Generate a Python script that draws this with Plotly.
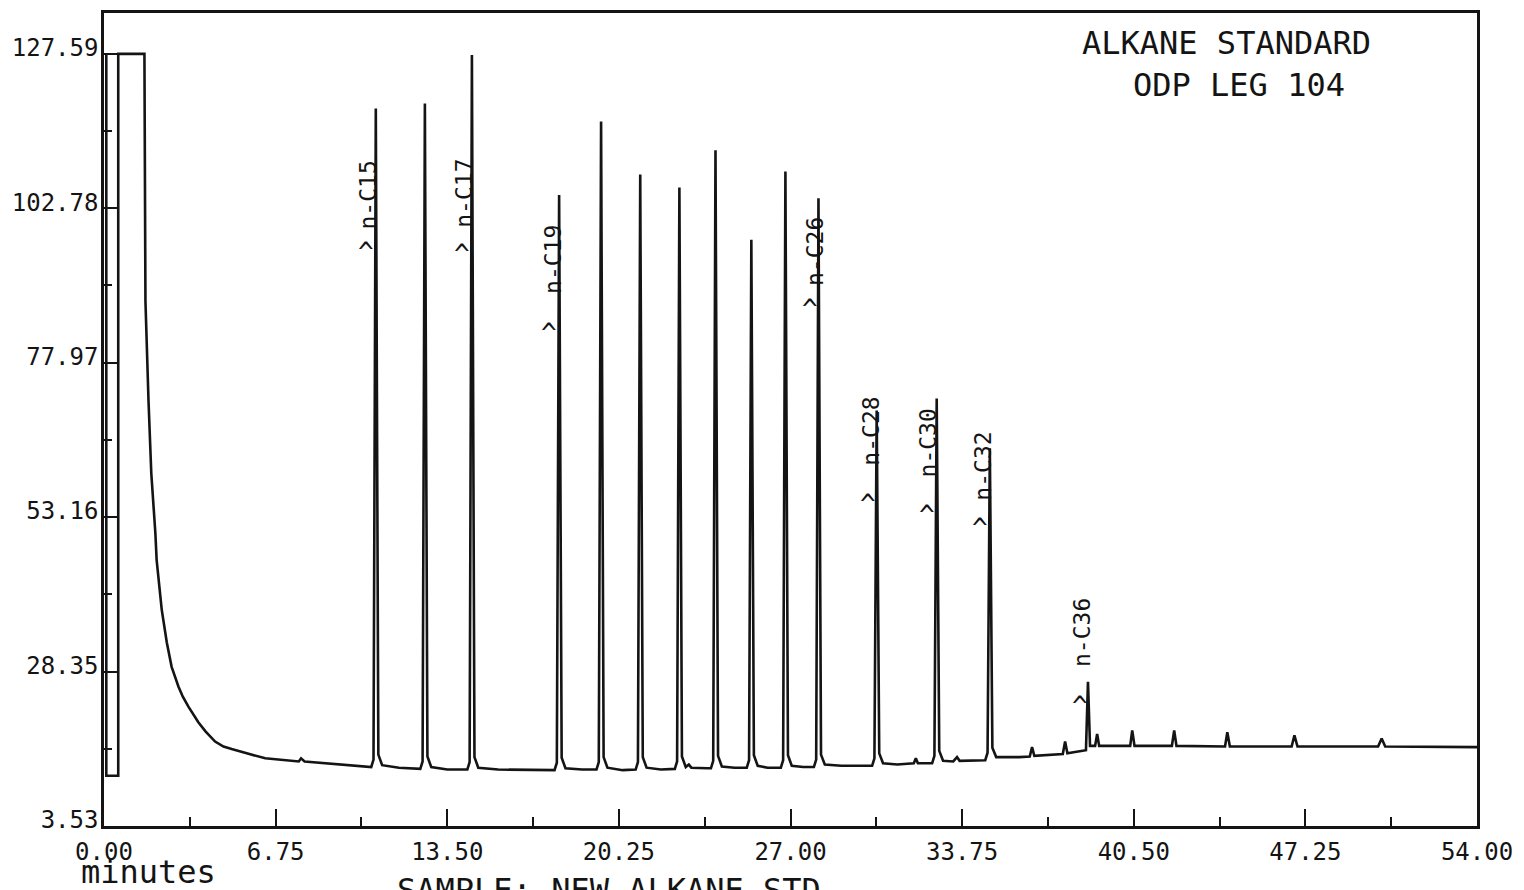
import plotly.graph_objects as go

# ---- data (retention time in minutes, detector signal) ----
time_min = [
    0.09, 0.09, 0.56, 0.56, 1.59,
    1.63, 1.75, 1.86, 2.02, 2.07, 2.27, 2.47, 2.66, 2.93, 3.10, 3.32, 3.71, 4.00, 4.37, 4.70, 5.02, 5.69, 6.34,
    7.66, 7.75, 7.89, 8.96, 10.02,
    10.51, 10.60, 10.69, 10.79, 10.94, 11.6, 12.3,
    12.44, 12.53, 12.62, 12.72, 12.87, 13.5, 14.13,
    14.29, 14.38, 14.47, 14.57, 14.72, 15.5, 16.8, 17.56,
    17.72, 17.81, 17.90, 18.00, 18.15, 18.8, 19.23,
    19.37, 19.46, 19.55, 19.65, 19.80, 20.4, 20.77,
    20.91, 21.00, 21.09, 21.19, 21.34, 21.9, 22.31,
    22.45, 22.54, 22.63, 22.73, 22.88, 23.0, 23.1, 23.73,
    23.87, 23.96, 24.05, 24.15, 24.30, 24.8, 25.14,
    25.28, 25.37, 25.46, 25.56, 25.71, 26.1, 26.48,
    26.62, 26.71, 26.80, 26.90, 27.05, 27.5, 27.78,
    27.92, 28.01, 28.10, 28.20, 28.35, 29.0, 30.07,
    30.21, 30.30, 30.39, 30.49, 30.64, 31.2, 31.85, 31.93, 32.01, 32.43,
    32.57, 32.66, 32.75, 32.85, 33.00, 33.4, 33.55, 33.65, 34.52,
    34.66, 34.75, 34.84, 34.94, 35.09, 36.0, 36.41, 36.50, 36.59, 37.71, 37.80, 37.89, 38.55,
    38.62, 38.70, 38.78, 38.98, 39.06, 39.14, 40.36, 40.44, 40.53, 42.0, 42.09, 42.18,
    44.09, 44.18, 44.28, 46.71, 46.82, 46.94, 50.11, 50.25, 50.39, 54.0,
]
signal = [
    127.59, 11.6, 11.6, 127.59, 127.59,
    87.9, 71.9, 60.2, 50.6, 46.3, 38.3, 33.0, 29.1, 25.9, 24.3, 22.7, 20.2, 18.7, 17.1, 16.3, 15.9, 15.1, 14.4,
    13.9, 14.4, 13.9, 13.5, 13.1,
    13.0, 14.2, 118.8, 15.0, 13.3, 12.9, 12.7,
    12.7, 13.9, 119.6, 14.7, 13.0, 12.6, 12.6,
    12.6, 13.8, 127.4, 14.6, 12.9, 12.6, 12.5, 12.5,
    12.5, 13.7, 104.9, 14.5, 12.8, 12.6, 12.6,
    12.6, 13.8, 116.7, 14.6, 12.9, 12.5, 12.6,
    12.6, 13.8, 108.2, 14.6, 12.9, 12.6, 12.7,
    12.7, 13.9, 106.1, 14.7, 13.0, 13.4, 12.9, 12.8,
    12.8, 14.0, 112.1, 14.8, 13.1, 12.9, 12.9,
    12.9, 14.1, 97.7, 14.9, 13.2, 12.9, 12.9,
    12.9, 14.1, 108.7, 14.9, 13.2, 13.0, 13.0,
    13.0, 14.2, 104.4, 15.0, 13.4, 13.2, 13.2,
    13.2, 14.4, 70.3, 15.2, 13.6, 13.4, 13.6, 14.4, 13.6, 13.6,
    13.6, 14.8, 72.2, 15.6, 14.0, 13.9, 14.6, 14.0, 14.1,
    14.1, 15.3, 64.2, 16.1, 14.6, 14.6, 14.7, 16.2, 14.8, 15.1, 17.1, 15.2, 15.6,
    15.7, 26.7, 16.4, 16.4, 18.3, 16.4, 16.4, 18.9, 16.4, 16.4, 18.9, 16.4,
    16.3, 18.6, 16.3, 16.3, 18.1, 16.3, 16.3, 17.6, 16.3, 16.2,
]

# axis ticks
x_tick_values = [0, 6.75, 13.5, 20.25, 27, 33.75, 40.5, 47.25, 54]
x_tick_labels = ["0.00", "6.75", "13.50", "20.25", "27.00", "33.75", "40.50", "47.25", "54.00"]
x_minor_values = [3.375, 10.125, 16.875, 23.625, 30.375, 37.125, 43.875, 50.625]
y_tick_values = [3.53, 28.35, 53.16, 77.97, 102.78, 127.59]
y_tick_labels = ["3.53", "28.35", "53.16", "77.97", "102.78", "127.59"]
y_minor_values = [15.94, 40.755, 65.565, 90.375, 115.185]

# peak identification labels
peak_labels = ["n-C15", "n-C17", "n-C19", "n-C26", "n-C28", "n-C30", "n-C32", "n-C36"]
label_x = [10.40, 14.18, 17.65, 27.96, 30.13, 32.41, 34.58, 38.44]
label_y = [104.9, 105.2, 94.6, 95.9, 66.9, 65.0, 61.3, 34.6]
caret_x = [10.31, 14.09, 17.52, 27.76, 30.04, 32.36, 34.45, 38.39]
caret_y = [96.9, 96.5, 83.9, 87.7, 56.4, 54.6, 52.5, 24.0]

title_lines = ["ALKANE STANDARD", "ODP LEG 104"]
x_axis_name = "minutes"
sample_caption = "SAMPLE: NEW ALKANE STD"

FONT = "DejaVu Sans Mono, monospace"
INK = "#141414"

fig = go.Figure()
fig.add_trace(go.Scatter(
    x=time_min, y=signal, mode="lines",
    line=dict(color=INK, width=2.6),
    hoverinfo="x+y", showlegend=False,
))

annotations = []
for txt, lx, ly in zip(peak_labels, label_x, label_y):
    annotations.append(dict(
        x=lx, y=ly, xref="x", yref="y", text=txt, textangle=-90,
        showarrow=False, xanchor="center", yanchor="middle",
        font=dict(family=FONT, size=23, color=INK),
    ))
for cx, cy in zip(caret_x, caret_y):
    annotations.append(dict(
        x=cx, y=cy, xref="x", yref="y", text="^", showarrow=False,
        xanchor="center", yanchor="middle", yshift=-7,
        font=dict(family=FONT, size=26, color=INK),
    ))

annotations.append(dict(x=0.8173, y=0.9636, xref="paper", yref="paper", text=title_lines[0],
                        showarrow=False, xanchor="center", yanchor="middle",
                        font=dict(family=FONT, size=32, color=INK)))
annotations.append(dict(x=0.8268, y=0.9116, xref="paper", yref="paper", text=title_lines[1],
                        showarrow=False, xanchor="center", yanchor="middle",
                        font=dict(family=FONT, size=32, color=INK)))
annotations.append(dict(x=0.0325, y=-0.057, xref="paper", yref="paper", text=x_axis_name,
                        showarrow=False, xanchor="center", yanchor="middle",
                        font=dict(family=FONT, size=32, color=INK)))
annotations.append(dict(x=0.368, y=-0.0527, xref="paper", yref="paper", text=sample_caption,
                        showarrow=False, xanchor="center", yanchor="top",
                        font=dict(family=FONT, size=32, color=INK)))

fig.update_layout(
    width=1524, height=890,
    margin=dict(l=104, r=47, t=10, b=64, pad=0),
    paper_bgcolor="white", plot_bgcolor="white",
    annotations=annotations,
    font=dict(family=FONT, color=INK),
)
fig.update_xaxes(
    range=[0, 54], showgrid=False, zeroline=False,
    showline=True, linecolor=INK, linewidth=2.5, mirror=True,
    tickmode="array", tickvals=x_tick_values, ticktext=x_tick_labels,
    ticks="inside", ticklen=17, tickwidth=2.2, tickcolor=INK,
    tickfont=dict(family=FONT, size=24, color=INK), ticklabelstandoff=2,
    minor=dict(tickmode="array", tickvals=x_minor_values, ticks="inside",
               ticklen=9, tickwidth=2.2, tickcolor=INK, showgrid=False),
)
fig.update_yaxes(
    range=[3.53, 134.15], showgrid=False, zeroline=False,
    showline=True, linecolor=INK, linewidth=2.5, mirror=True,
    tickmode="array", tickvals=y_tick_values, ticktext=y_tick_labels,
    ticks="inside", ticklen=15, tickwidth=2.2, tickcolor=INK,
    tickfont=dict(family=FONT, size=24, color=INK), ticklabelshift=-6, ticklabelstandoff=-2,
    minor=dict(tickmode="array", tickvals=y_minor_values, ticks="inside",
               ticklen=8, tickwidth=2.2, tickcolor=INK, showgrid=False),
)

fig.write_html(
    "out.html",
    config={"displayModeBar": False},
    post_script="document.body.style.margin='0';document.body.style.overflow='hidden';",
)
